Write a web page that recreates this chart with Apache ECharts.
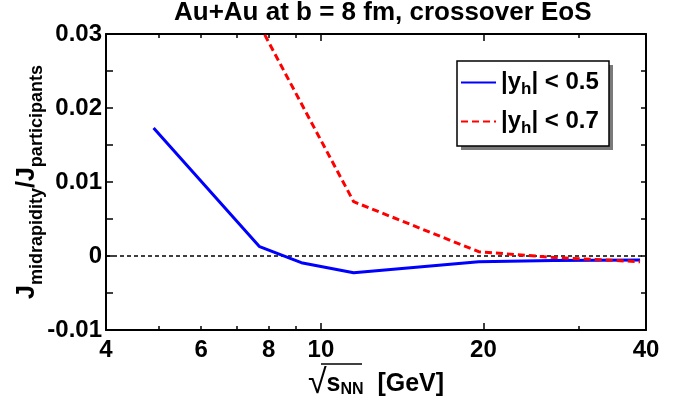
<!DOCTYPE html>
<html>
<head>
<meta charset="utf-8">
<script src="https://cdn.jsdelivr.net/npm/echarts@6/dist/echarts.min.js"></script>
<style>html,body{margin:0;padding:0;background:#fff}#chart{width:689px;height:408px}</style>
</head>
<body>
<div id="chart"></div>
<script>
// sqrt(s_NN) in GeV and J_mid/J_part for the two rapidity windows
var energies05 = [4.9, 7.7, 9.2, 11.5, 19.6, 27, 39];
var ratio05 = [0.0173, 0.00126, -0.0009, -0.00226, -0.00077, -0.0006, -0.00054];
var energies07 = [7.7, 9.2, 11.5, 19.6, 27, 39];
var ratio07 = [0.0312, 0.0206, 0.00734, 0.00058, -0.0002, -0.00077];
var xLabelValues = [4, 6, 8, 10, 20, 40];
var xShortTicks = [5, 6, 7, 8, 9, 30];
var xLongTicks = [10, 20];

var font = 'Liberation Sans, Arial, sans-serif';

function pairs(xs, ys) {
  return xs.map(function (x, i) { return [x, ys[i]]; });
}

function logAxis(pos, ticks, len, withLine, withLabels) {
  return {
    type: 'log', logBase: 10, min: 4, max: 40, position: pos,
    axisLine: { show: withLine, onZero: false, lineStyle: { color: '#000', width: 2 } },
    axisTick: { show: true, inside: true, length: len, customValues: ticks,
      lineStyle: { color: '#000', width: 1.5 } },
    axisLabel: { show: withLabels, customValues: xLabelValues, margin: 8,
      formatter: function (v) { return String(Math.round(v)); },
      color: '#000', fontSize: 24, fontWeight: 'bold', fontFamily: font },
    splitLine: { show: false }, minorTick: { show: false }
  };
}

var xAxes = [
  logAxis('bottom', xShortTicks, 4, true, true),
  logAxis('bottom', xLongTicks, 7, false, false),
  logAxis('top', xShortTicks, 4, true, false),
  logAxis('top', xLongTicks, 7, false, false)
];
xAxes[0].name = '{r|√}s{s|NN}  [GeV]';
xAxes[0].nameLocation = 'middle';
xAxes[0].nameGap = 35;
xAxes[0].nameTextStyle = {
  color: '#000', fontSize: 25, fontWeight: 'bold', fontFamily: font, lineHeight: 27,
  rich: {
    r: { fontSize: 34, fontWeight: 'normal', fontFamily: font, color: '#000', lineHeight: 27 },
    s: { fontSize: 16, fontWeight: 'bold', fontFamily: font, color: '#000', lineHeight: 17, padding: [12, 0, 0, 0] }
  }
};

function yAxisDef(pos, len, withLabels) {
  return {
    type: 'value', min: -0.01, max: 0.03, interval: 0.01, position: pos,
    axisLine: { show: true, onZero: false, lineStyle: { color: '#000', width: 2 } },
    axisTick: { show: true, inside: true, length: len, lineStyle: { color: '#000', width: 1.5 } },
    minorTick: { show: true, splitNumber: 2, length: len, lineStyle: { color: '#000', width: 1.5 } },
    axisLabel: { show: withLabels, margin: 4, color: '#000', fontSize: 24, fontWeight: 'bold', fontFamily: font },
    splitLine: { show: false }, minorSplitLine: { show: false }
  };
}

var yAxes = [yAxisDef('left', 7, true), yAxisDef('right', 5, false)];
yAxes[0].name = 'J{s|midrapidity}/J{s|participants}';
yAxes[0].nameLocation = 'middle';
yAxes[0].nameGap = 65;
yAxes[0].nameMoveOverlap = false;
yAxes[0].nameTextStyle = {
  color: '#000', fontSize: 25, fontWeight: 'bold', fontFamily: font, lineHeight: 27,
  rich: {
    s: { fontSize: 18, fontWeight: 'bold', fontFamily: font, color: '#000', lineHeight: 19, padding: [20, 0, 0, 0] }
  }
};

var chart = echarts.init(document.getElementById('chart'), null, { renderer: 'canvas' });
chart.setOption({
  animation: false,
  backgroundColor: '#fff',
  title: {
    text: 'Au+Au at b = 8 fm, crossover EoS',
    left: 174, top: 0, padding: 0,
    textStyle: { color: '#000', fontSize: 26, fontWeight: 'bold', fontFamily: font }
  },
  grid: { left: 106, right: 43, top: 34, bottom: 78, containLabel: false, outerBoundsMode: 'none' },
  legend: {
    left: 460, top: 67, padding: 0, orient: 'vertical',
    itemWidth: 35, itemHeight: 14, itemGap: 8,
    data: ['y05', 'y07'],
    itemStyle: { color: 'rgba(0,0,0,0)', borderColor: 'rgba(0,0,0,0)', borderWidth: 0 },
    formatter: function (name) {
      return name === 'y05' ? '|y{s|h}| < 0.5' : '|y{s|h}| < 0.7';
    },
    textStyle: {
      color: '#000', fontSize: 24, fontWeight: 'bold', fontFamily: font, lineHeight: 26,
      rich: {
        s: { fontSize: 17, fontWeight: 'bold', fontFamily: font, color: '#000', lineHeight: 18, padding: [14, 0, 0, 0] }
      }
    }
  },
  graphic: [
    { type: 'rect', silent: true, z: 1, shape: { x: 461, y: 65, width: 152, height: 85 }, style: { fill: '#7a7a7a' } },
    { type: 'rect', silent: true, z: 2, shape: { x: 457, y: 61, width: 152, height: 85 },
      style: { fill: '#fff', stroke: '#000', lineWidth: 1.5 } },
    // overline of the square root in the x-axis title
    { type: 'line', silent: true, z: 2, shape: { x1: 321, y1: 364, x2: 362, y2: 364 },
      style: { stroke: '#000', lineWidth: 1.5 } }
  ],
  xAxis: xAxes,
  yAxis: yAxes,
  series: [
    {
      name: 'y05', type: 'line', data: pairs(energies05, ratio05),
      showSymbol: false, symbol: 'none', clip: true, z: 5,
      lineStyle: { color: '#0000ff', width: 3 }, itemStyle: { color: '#0000ff' },
      markLine: {
        silent: true, symbol: ['none', 'none'], label: { show: false },
        lineStyle: { color: '#000', width: 1.5, type: [4, 3] },
        data: [{ yAxis: 0 }]
      }
    },
    {
      name: 'y07', type: 'line', data: pairs(energies07, ratio07),
      showSymbol: false, symbol: 'none', clip: true, z: 6,
      lineStyle: { color: '#ff0000', width: 3, type: [7, 4] }, itemStyle: { color: '#ff0000' }
    }
  ]
});
</script>
</body>
</html>
